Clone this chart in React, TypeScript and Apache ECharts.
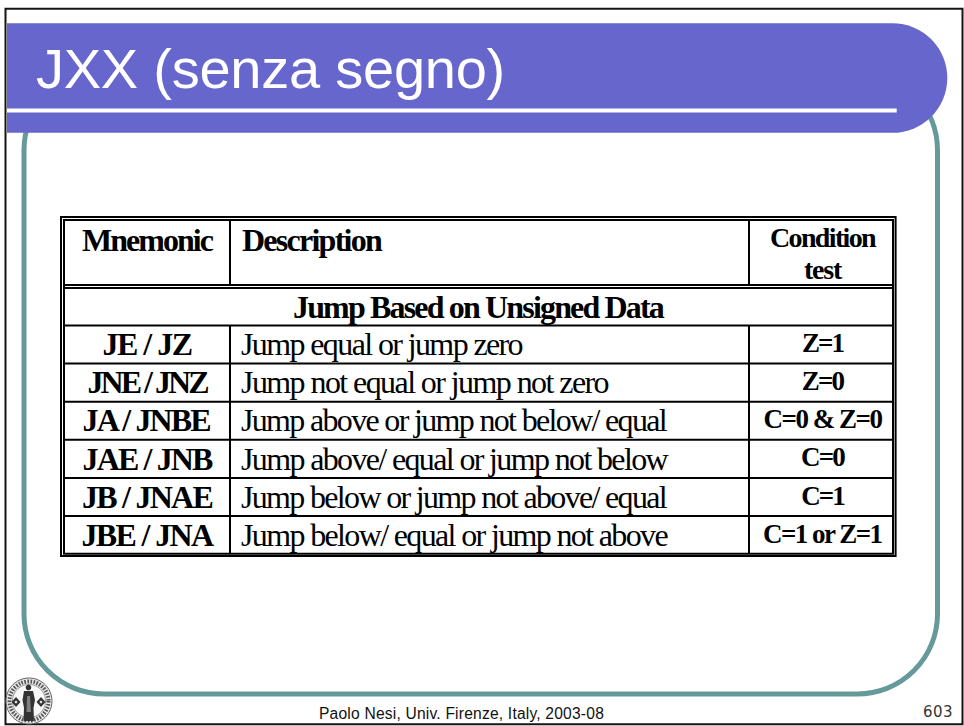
import React, { useEffect, useRef } from "react";
import * as echarts from "echarts";

const titleText = "JXX (senza segno)";
const footerText = "Paolo Nesi, Univ. Firenze, Italy, 2003-08";
const pageNumber = "603";
const headMnemonic = "Mnemonic";
const headDescription = "Description";
const headCondition = ["Condition", "test"];
const sectionText = "Jump Based on Unsigned Data";
const mnemonics = ["JE / JZ", "JNE / JNZ", "JA / JNBE", "JAE / JNB", "JB / JNAE", "JBE / JNA"];
const descriptions = [
  "Jump equal or jump zero",
  "Jump not equal or jump not zero",
  "Jump above or jump not below/ equal",
  "Jump above/ equal or jump not below",
  "Jump below or jump not above/ equal",
  "Jump below/ equal or jump not above",
];
const conditions = ["Z=1", "Z=0", "C=0 & Z=0", "C=0", "C=1", "C=1 or Z=1"];
const mnemonicWidths = [89, 119, 129, 129, 130, 131];
const descriptionWidths = [281, 367, 425, 426, 425, 426];
const conditionWidths = [41, 41.7, 118, 43, 42.7, 119];

const SERIF = '"Liberation Serif", serif';
const SANS = '"Liberation Sans", sans-serif';
const ctx = document.createElement("canvas").getContext("2d")!;
const spacing = new Map<string, number>();

function fitText(
  text: string,
  family: string,
  weight: string,
  size: number,
  left: number,
  baseline: number,
  width: number,
  fill: string,
  metric: number
) {
  const font = `${weight} ${size}px ${family}`;
  ctx.font = font;
  const natural = ctx.measureText(text).width;
  spacing.set(text, (width - natural) / text.length);
  return {
    type: "text",
    x: left,
    y: baseline - metric * size,
    z: 10,
    style: {
      text,
      fill,
      font,
      textAlign: "left",
      verticalAlign: "middle",
    },
  };
}

const box = (x: number, y: number, width: number, height: number, fill: string, z = 5) => ({
  type: "rect",
  shape: { x, y, width, height },
  style: { fill },
  z,
});

function sealElements() {
  const cx = 29;
  const cy = 701;
  const dark = "#333333";
  const mid = "#808080";
  const el: any[] = [
    { type: "circle", shape: { cx, cy, r: 23 }, style: { fill: "#e9e9e9", stroke: "#666", lineWidth: 1 }, z: 7 },
    { type: "circle", shape: { cx, cy, r: 19.5 }, style: { fill: "none", stroke: "#555", lineWidth: 4, lineDash: [1.6, 1.4] }, z: 7 },
    { type: "circle", shape: { cx, cy, r: 16.5 }, style: { fill: "#f8f8f8", stroke: "#888", lineWidth: 0.8 }, z: 7 },
    { type: "circle", shape: { cx: 28.5, cy: 687.5, r: 2.8 }, style: { fill: dark }, z: 8 },
    {
      type: "polygon",
      shape: { points: [[24, 691], [33, 691], [35, 700], [33.5, 708], [34, 721], [23.5, 721], [24, 708], [22.5, 700]] },
      style: { fill: dark },
      z: 8,
    },
    { type: "polygon", shape: { points: [[27, 696], [30, 696], [31, 712], [26.5, 712]] }, style: { fill: mid }, z: 8 },
  ];
  for (const fx of [16, 41]) {
    el.push(
      { type: "polygon", shape: { points: [[fx, 697], [fx + 4.5, 702], [fx, 707], [fx - 4.5, 702]] }, style: { fill: dark }, z: 8 },
      { type: "circle", shape: { cx: fx, cy: 702, r: 1.3 }, style: { fill: "#ddd" }, z: 8 }
    );
  }
  return el;
}

function buildGraphics() {
  const rowLine = (i: number) => 325.5 + i * 38.1;
  const rowBase = (i: number) => 355 + i * 38.1;
  const condBase = (i: number) => 352 + i * 38.2;
  const g: any[] = [
    { type: "rect", shape: { x: 5.5, y: 8.8, width: 957, height: 715.5 }, style: { fill: "#fff", stroke: "#141414", lineWidth: 2 }, z: 1 },
    { type: "rect", shape: { x: 24, y: 70, width: 913.5, height: 624, r: 80 }, style: { fill: "#fff", stroke: "#669999", lineWidth: 5 }, z: 2 },
    { type: "rect", shape: { x: 7, y: 23.3, width: 940.3, height: 109.5, r: [0, 54.7, 54.7, 0] }, style: { fill: "#6666cc" }, z: 3 },
    box(7, 108.6, 889.7, 3.8, "#ffffff", 4),
    { type: "rect", shape: { x: 61, y: 217, width: 834.6, height: 339 }, style: { fill: "#fff", stroke: "#000", lineWidth: 2 }, z: 4 },
    { type: "rect", shape: { x: 64, y: 220, width: 829, height: 333.7 }, style: { fill: "#fff", stroke: "#000", lineWidth: 2 }, z: 4 },
    box(64, 284, 829, 2, "#000"),
    box(64, 287, 829, 2, "#000"),
    box(229, 220, 2, 65, "#000"),
    box(748, 220, 2, 65, "#000"),
    box(229, 325, 2, 229, "#000"),
    box(748, 325, 2, 229, "#000"),
    fitText(titleText, SANS, "normal", 56, 36, 88, 469, "#ffffff", 0.3465),
    fitText(footerText, SANS, "normal", 15.6, 319, 719, 285, "#111111", 0.3465),
    fitText(pageNumber, '"DejaVu Sans", sans-serif', "normal", 15, 923, 717.7, 30, "#333333", 0.38),
    fitText(headMnemonic, SERIF, "bold", 32, 82, 251, 130, "#000", 0.3375),
    fitText(headDescription, SERIF, "bold", 32, 242, 251, 139, "#000", 0.3375),
    fitText(headCondition[0], SERIF, "bold", 28, 770, 247, 105, "#000", 0.3375),
    fitText(headCondition[1], SERIF, "bold", 28, 804, 279, 37, "#000", 0.3375),
    fitText(sectionText, SERIF, "bold", 32, 293, 318, 370, "#000", 0.3375),
  ];
  mnemonics.forEach((m, i) => {
    g.push(box(64, rowLine(i) - 1, 829, 2, "#000"));
    const w = mnemonicWidths[i];
    g.push(fitText(m, SERIF, "bold", 32, 147 - w / 2, rowBase(i), w, "#000", 0.3375));
    g.push(fitText(descriptions[i], SERIF, "normal", 32, 241, rowBase(i), descriptionWidths[i], "#000", 0.3375));
    const cw = conditionWidths[i];
    g.push(fitText(conditions[i], SERIF, "bold", 27, 822.5 - cw / 2, condBase(i), cw, "#000", 0.3375));
  });
  return g.concat(sealElements());
}

export default function App() {
  const ref = useRef<HTMLDivElement>(null);
  useEffect(() => {
    document.body.style.margin = "0";
    document.body.style.overflow = "hidden";
    const chart = echarts.init(ref.current!, null, { renderer: "svg" });
    chart.setOption({
      animation: false,
      backgroundColor: "#ffffff",
      graphic: { elements: buildGraphics() },
    });
    ref.current!.querySelectorAll("text").forEach((t) => {
      const s = spacing.get(t.textContent || "");
      if (s !== undefined) t.style.letterSpacing = `${s}px`;
    });
    return () => chart.dispose();
  }, []);
  return <div ref={ref} style={{ position: "absolute", left: 0, top: 0, width: 964, height: 726 }} />;
}
